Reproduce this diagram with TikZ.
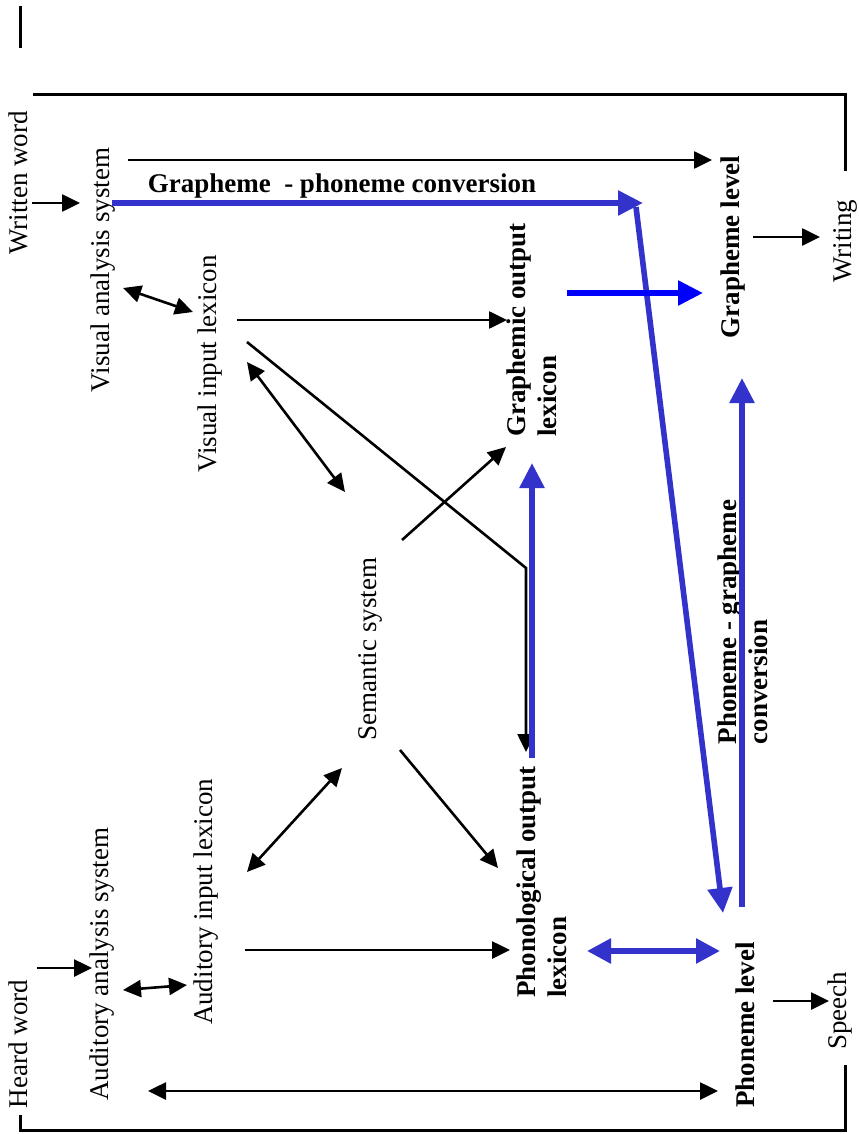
\documentclass[tikz,border=0pt]{standalone}
\usepackage{fontspec}
\setmainfont{Liberation Serif}
\usepackage{tikz}
\usetikzlibrary{arrows.meta}
\definecolor{convblue}{RGB}{51,51,204}
\definecolor{brightblue}{RGB}{0,0,255}
\tikzstyle{lbl} = [font=\fontsize{13.5}{15.5}\selectfont, inner sep=0pt, rotate=90]
\tikzstyle{blbl} = [lbl, font=\fontsize{13.5}{15.5}\selectfont\bfseries, align=left]
\tikzstyle{arr} = [draw, line width=1.3pt, -{Triangle[length=9pt,width=8.5pt]}]
\tikzstyle{darr} = [arr, {Triangle[length=9pt,width=8.5pt]}-{Triangle[length=9pt,width=8.5pt]}]
\tikzstyle{barr} = [draw=convblue, line width=2.8pt, -{Triangle[length=12.5pt,width=12pt]}]
\tikzstyle{dbarr} = [barr, {Triangle[length=12pt,width=12pt]}-{Triangle[length=12pt,width=12pt]}]
\tikzstyle{frameline} = [draw, line width=1.5pt]

\begin{document}
\begin{tikzpicture}[x=0.5pt, y=-0.5pt]
    \useasboundingbox (0,0) rectangle (858,1134);

    % reading side
    \node (written) [lbl] at (18,183) {Written word};
    \node (visana) [lbl] at (103,270) {Visual analysis system};
    \node (visin) [lbl] at (210,364) {Visual input lexicon};
    \node (graphout) [blbl] at (532,330) {Graphemic output\\lexicon};
    \node (graphlev) [blbl] at (733,247) {Grapheme level};
    \node (writing) [lbl] at (845,241) {Writing};
    \node (graphphon) [font=\fontsize{13.5}{15.5}\selectfont\bfseries, inner sep=0pt] at (342,186) {Grapheme\ \ - phoneme conversion};

    % middle
    \node (semsys) [lbl] at (370,649) {Semantic system};
    \node (phongraph) [blbl] at (743,622) {Phoneme - grapheme\\conversion};

    % hearing side
    \node (heard) [lbl] at (18,1044) {Heard word};
    \node (audana) [lbl] at (102,964) {Auditory analysis system};
    \node (audin) [lbl] at (206,902) {Auditory input lexicon};
    \node (phonout) [blbl] at (542,882) {Phonological output\\lexicon};
    \node (phonlev) [blbl] at (745,1025) {Phoneme level};
    \node (speech) [lbl] at (840,1011) {Speech};

    % arrow ends
    \coordinate (written1) at (32,203);   \coordinate (visana1) at (80,203);
    \coordinate (visana2) at (128,160);   \coordinate (graphlev1) at (712,160);
    \coordinate (visin1) at (237,320);    \coordinate (graphout1) at (507,320);
    \coordinate (semsys1) at (402,540);   \coordinate (graphout2) at (506,447);
    \coordinate (semsys2) at (400,750);   \coordinate (phonout1) at (498,868);
    \coordinate (heard1) at (37,968);     \coordinate (audana1) at (92,968);
    \coordinate (audin1) at (245,950);    \coordinate (phonout2) at (510,950);
    \coordinate (phonlev1) at (773,1001); \coordinate (speech1) at (829,1001);
    \coordinate (graphlev2) at (753,237); \coordinate (writing1) at (820,237);

    \coordinate (visana3) at (123,288);   \coordinate (visin2) at (193,312);
    \coordinate (visin3) at (247,362);    \coordinate (semsys3) at (345,492);
    \coordinate (semsys4) at (342,768);   \coordinate (audin2) at (247,872);
    \coordinate (audana2) at (123,990);   \coordinate (audin3) at (187,985);
    \coordinate (audana3) at (148,1091);  \coordinate (phonlev2) at (718,1091);

    \coordinate (visin4) at (247,342);    \coordinate (bend) at (526,568);
    \coordinate (phonout3) at (526,752);

    \coordinate (visana4) at (112,203);   \coordinate (corner) at (643,203);
    \coordinate (corner1) at (636,207);   \coordinate (phonlev3) at (723,913);
    \coordinate (phonout4) at (532,758);  \coordinate (graphout3) at (532,463);
    \coordinate (phonout5) at (587,951);  \coordinate (phonlev4) at (720,951);
    \coordinate (phonlev5) at (742,907);  \coordinate (graphlev3) at (742,378);
    \coordinate (graphout4) at (567,293); \coordinate (graphlev4) at (703,293);

    % frame
    \path [frameline] (20,6) -- (20,48);
    \path [frameline] (33,95) -- (845,95) -- (845,171);
    \path [frameline] (20,1115) -- (20,1130) -- (845,1130) -- (845,1065);

    \foreach \a/\b in {written1/visana1, visana2/graphlev1, visin1/graphout1,
        semsys1/graphout2, semsys2/phonout1, heard1/audana1, audin1/phonout2,
        phonlev1/speech1, graphlev2/writing1}
    {
        \path [arr] (\a) -- (\b);
    }

    \foreach \a/\b in {visana3/visin2, visin3/semsys3, semsys4/audin2,
        audana2/audin3, audana3/phonlev2}
    {
        \path [darr] (\a) -- (\b);
    }

    \path [arr] (visin4) -- (bend) -- (phonout3);

    % routes in blue
    \path [barr] (visana4) -- (corner);
    \path [barr] (corner1) -- (phonlev3);
    \path [barr] (phonout4) -- (graphout3);
    \path [barr] (phonlev5) -- (graphlev3);
    \path [dbarr] (phonout5) -- (phonlev4);
    \path [barr, draw=brightblue] (graphout4) -- (graphlev4);
\end{tikzpicture}
\end{document}
